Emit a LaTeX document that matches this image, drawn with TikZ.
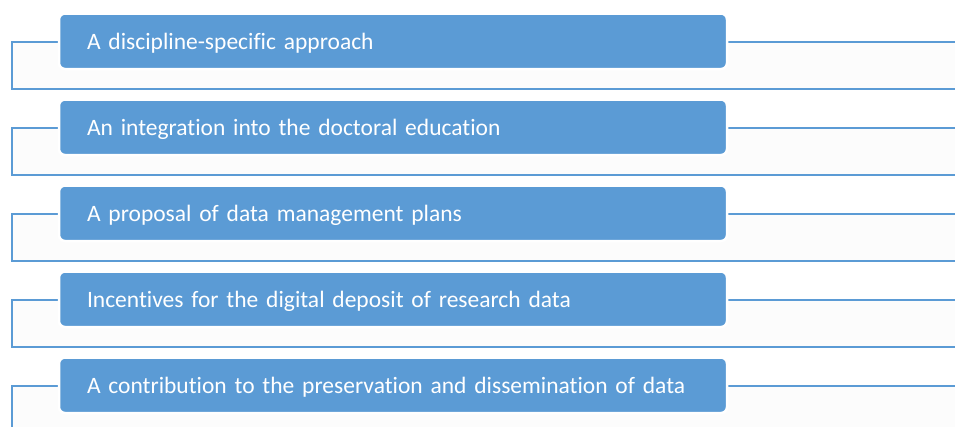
\documentclass[tikz,border=0pt]{standalone}
\usepackage{fontspec}
\setmainfont{Carlito}[Ligatures = NoCommon]
\definecolor{itemblue}{HTML}{5B9BD5}
\tikzset{
  item/.style = {rectangle, rounded corners = 6pt, fill = itemblue, draw = white,
    line width = 2.5pt, outer sep = 0pt, anchor = north west, minimum height = 55.5pt,
    text width = 612pt, inner xsep = 28pt, align = left, text = white,
    text height = 19pt, text depth = 3pt,
    font = \fontsize{23.5}{26}\selectfont},
  bracket/.style = {draw = itemblue, line width = 2pt, fill = black!1}
}
\begin{document}
\begin{tikzpicture}[x = 1pt, y = -1pt]
    \useasboundingbox[fill = white] (0, 0) rectangle (955, 426);
    % frames behind the boxes
    \coordinate (a1) at (12, 41.5);  \coordinate (b1) at (962, 89);
    \coordinate (a2) at (12, 127.5); \coordinate (b2) at (962, 175);
    \coordinate (a3) at (12, 213.5); \coordinate (b3) at (962, 261);
    \coordinate (a4) at (12, 299.5); \coordinate (b4) at (962, 347);
    \coordinate (a5) at (12, 385.5); \coordinate (b5) at (962, 440);
    \draw[bracket] (a1) rectangle (b1);
    \draw[bracket] (a2) rectangle (b2);
    \draw[bracket] (a3) rectangle (b3);
    \draw[bracket] (a4) rectangle (b4);
    \draw[bracket] (a5) rectangle (b5);
    % boxes
    \node[item] (i1) at (59, 13.5) {A discipline-specific approach};
    \node[item] (i2) at (59, 99.5) {An integration into the doctoral education};
    \node[item] (i3) at (59, 185.5) {A proposal of data management plans};
    \node[item] (i4) at (59, 271.5) {Incentives for the digital deposit of research data};
    \node[item] (i5) at (59, 357.5) {A contribution to the preservation and dissemination of data};
\end{tikzpicture}
\end{document}
